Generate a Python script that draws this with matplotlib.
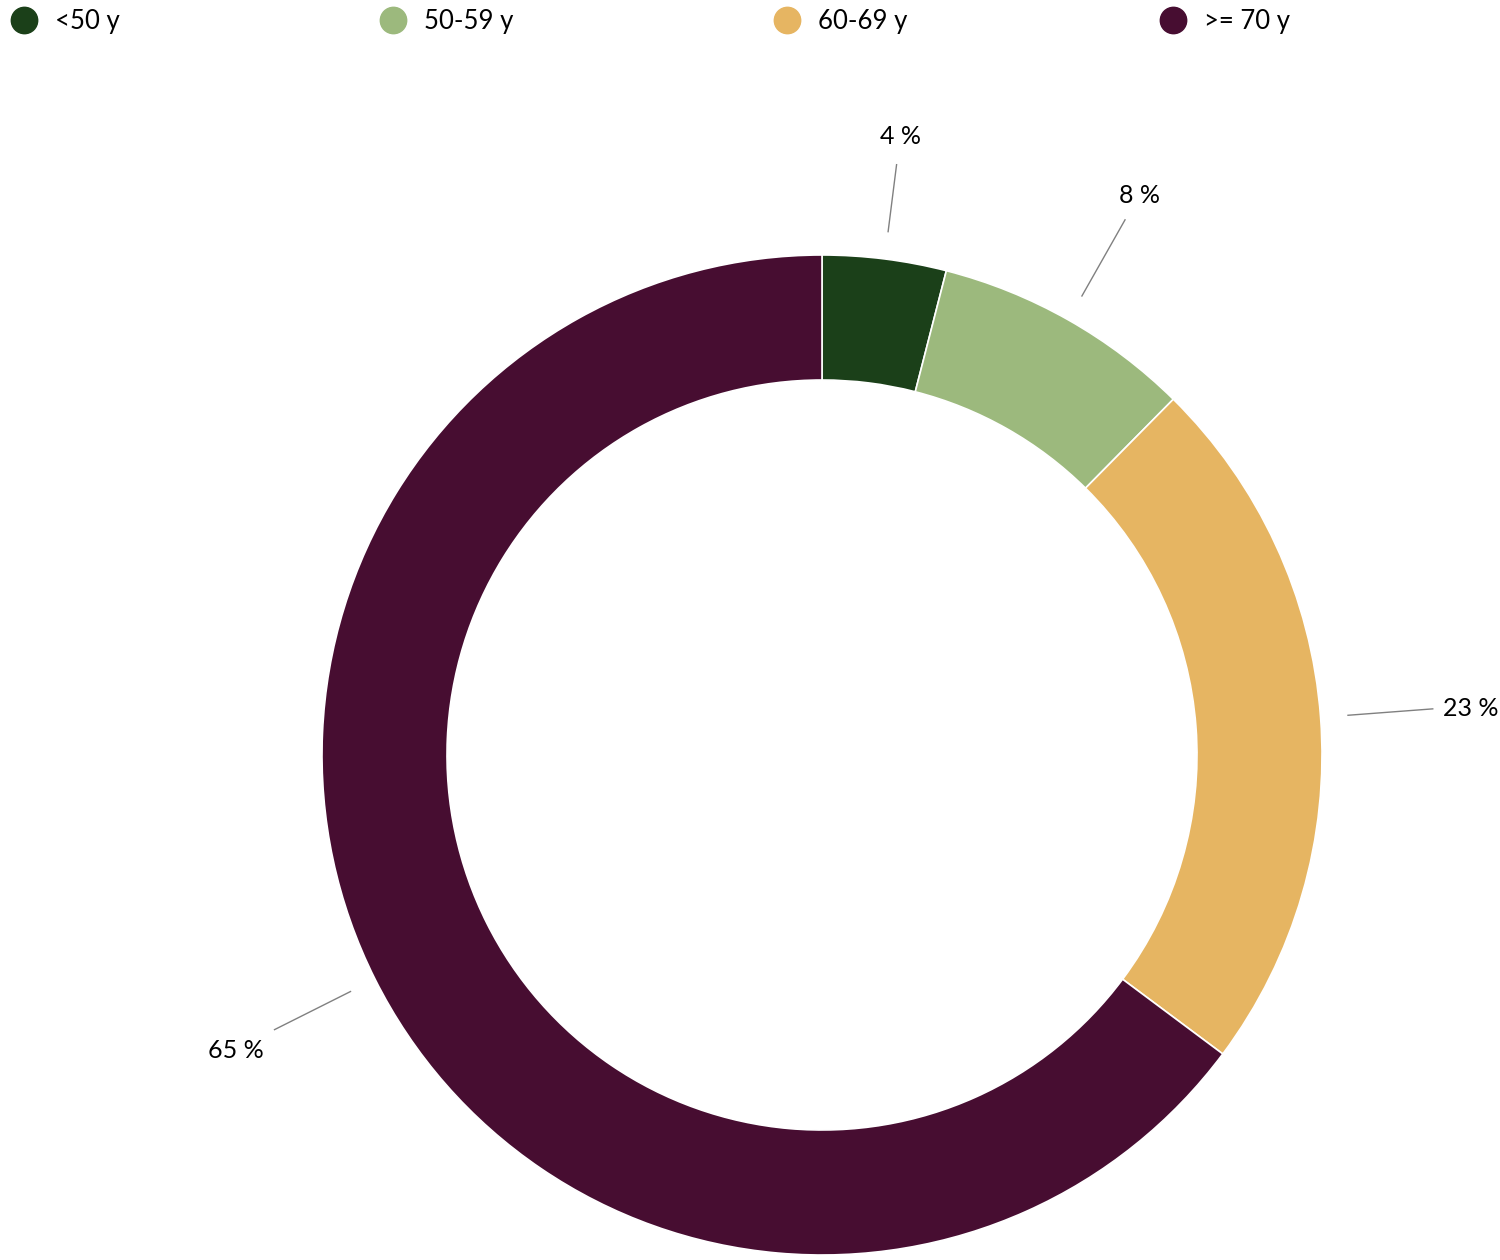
import matplotlib
matplotlib.use("Agg")
import matplotlib.pyplot as plt
import numpy as np

plt.rcParams['font.family'] = ['Lato', 'DejaVu Sans']

groups = ["<50 y", "50-59 y", "60-69 y", ">= 70 y"]
shares = [4.0, 8.4, 22.8, 64.8]
pct_labels = ["4 %", "8 %", "23 %", "65 %"]
colors = ["#1b4019", "#9cb97d", "#e6b562", "#470d31"]

fig = plt.figure(figsize=(15, 12.6), dpi=100)
ax = fig.add_axes([0, 0, 1, 1])

wedges, _ = ax.pie(shares, colors=colors, startangle=90, counterclock=False,
                   radius=1.0, wedgeprops=dict(width=0.25, edgecolor="white", linewidth=1.2))

# ring centre sits at pixel (822, 755), radius 500 px
ax.set_xlim(-822 / 500, (1500 - 822) / 500)
ax.set_ylim(-(1260 - 755) / 500, 755 / 500)
ax.axis("off")

# leader lines and labels along the mid angle of each slice
line_end = [1.19, 1.23, 1.225, 1.225]
text_r = [1.246, 1.287, 1.245, 1.25]
y_shift = [0, 0, 0, -0.03]
for w, lab, r_end, r_txt, dy in zip(wedges, pct_labels, line_end, text_r, y_shift):
    mid = np.deg2rad((w.theta1 + w.theta2) / 2)
    c, s = np.cos(mid), np.sin(mid)
    ax.plot([1.055 * c, r_end * c], [1.055 * s, r_end * s], color="#808080", lw=1.0)
    ha = "left" if c > 0.6 else ("right" if c < -0.6 else "center")
    ax.text(r_txt * c, r_txt * s + dy, lab, ha=ha, va="center",
            fontsize=18, color="black")

# legend across the top
leg_x = [24, 393, 787, 1173]
for x, g, col in zip(leg_x, groups, colors):
    ax.plot([x / 1500], [1 - 20 / 1260], "o", ms=19, color=col,
            transform=fig.transFigure, clip_on=False)
    fig.text((x + 31) / 1500, 1 - 21 / 1260, g, ha="left", va="center",
             fontsize=18.5, color="black")

fig.savefig("out.png", dpi=100)
